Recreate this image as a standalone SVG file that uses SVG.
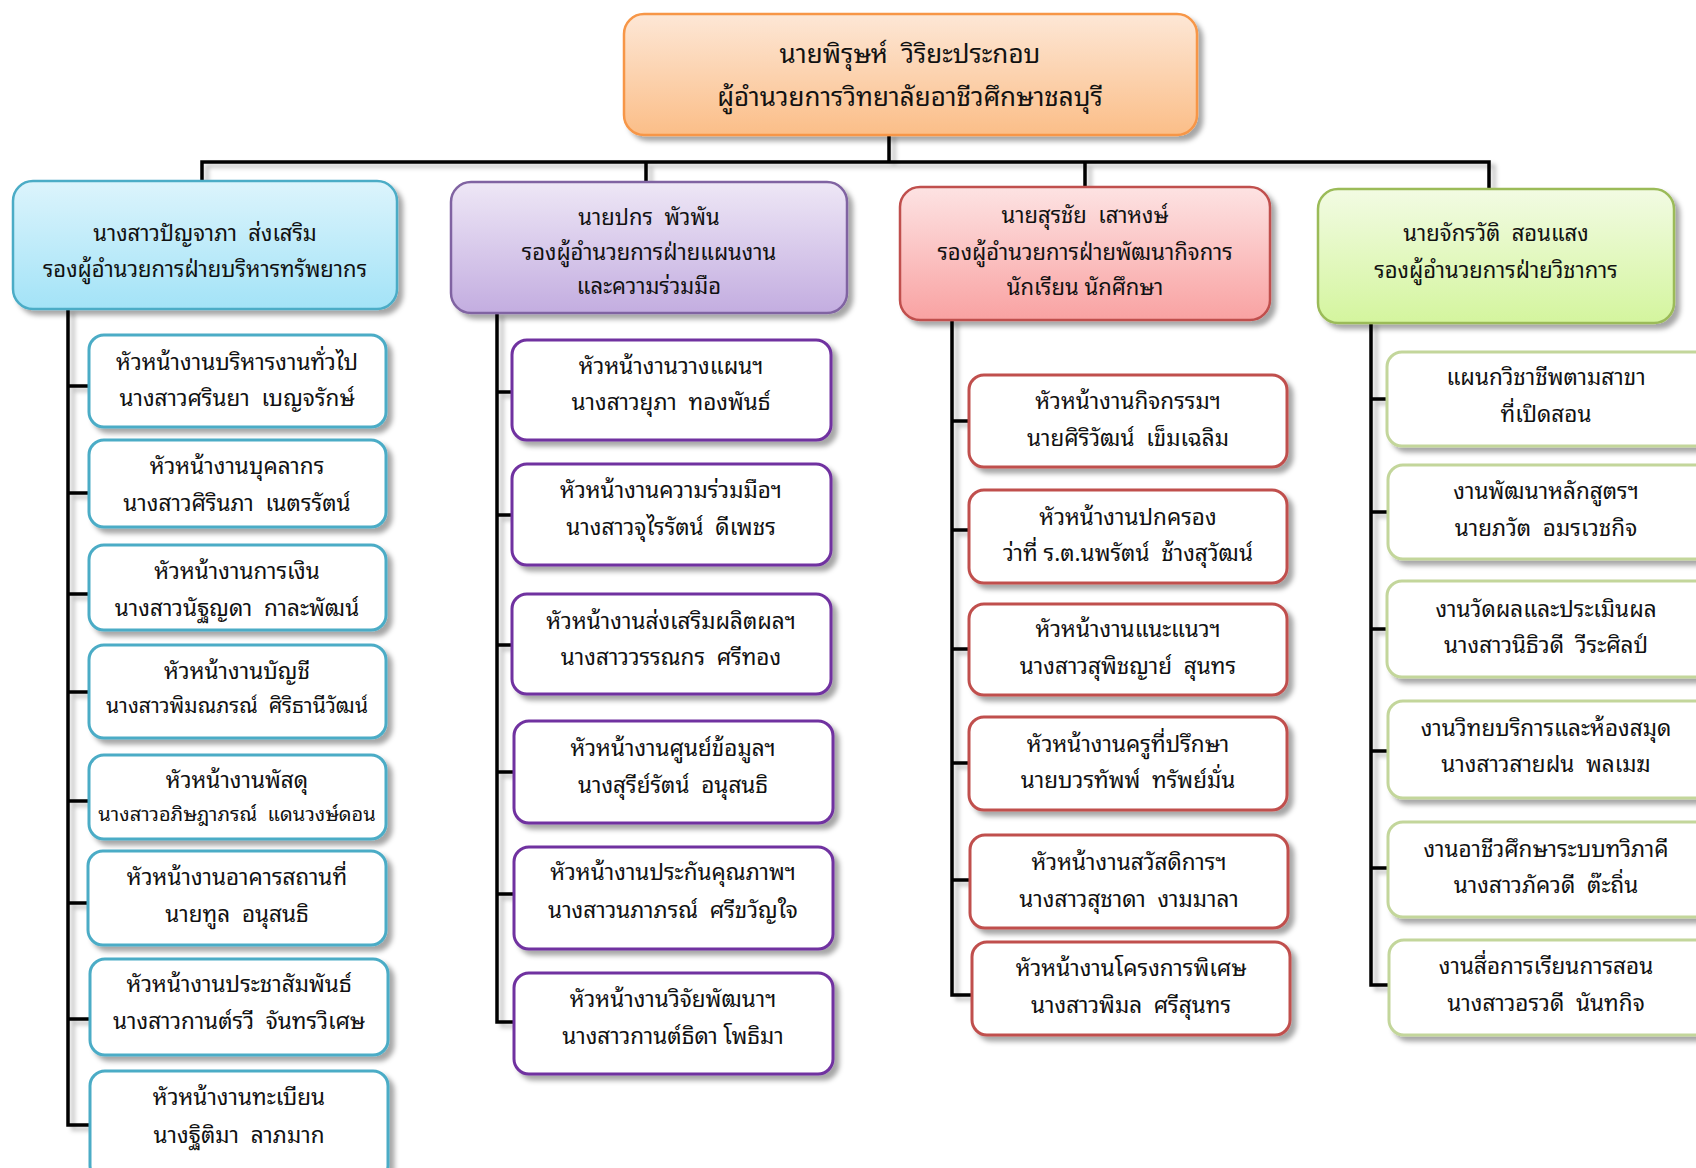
<svg xmlns="http://www.w3.org/2000/svg" width="1696" height="1168" viewBox="0 0 1696 1168">
<defs>
<filter id="sh" x="-10%" y="-10%" width="130%" height="140%">
<feDropShadow dx="5" dy="5" stdDeviation="2.5" flood-color="#000" flood-opacity="0.35"/>
</filter>
<filter id="lsh" x="-50%" y="-5%" width="300%" height="115%">
<feDropShadow dx="5" dy="4" stdDeviation="2" flood-color="#000" flood-opacity="0.25"/>
</filter>
<linearGradient id="gO" x1="0" y1="0" x2="0" y2="1"><stop offset="0" stop-color="#FDE7D6"/><stop offset="1" stop-color="#FBBE88"/></linearGradient>
<linearGradient id="gB" x1="0" y1="0" x2="0" y2="1"><stop offset="0" stop-color="#DCF4FC"/><stop offset="1" stop-color="#A3E3F7"/></linearGradient>
<linearGradient id="gP" x1="0" y1="0" x2="0" y2="1"><stop offset="0" stop-color="#EEE7F6"/><stop offset="1" stop-color="#C3ADE0"/></linearGradient>
<linearGradient id="gR" x1="0" y1="0" x2="0" y2="1"><stop offset="0" stop-color="#FDE3E3"/><stop offset="1" stop-color="#F9A2A2"/></linearGradient>
<linearGradient id="gG" x1="0" y1="0" x2="0" y2="1"><stop offset="0" stop-color="#F2FBE3"/><stop offset="1" stop-color="#D4F59E"/></linearGradient>
</defs>
<style>
text{font-family:"Noto Sans Thai Looped","Noto Serif Thai","Loma","Garuda","Kinnari","Norasi","Noto Sans Thai","DejaVu Sans","Noto Sans",sans-serif;fill:#111;text-anchor:middle;white-space:pre}
.t1{font-size:26px}
.t2{font-size:22px}
.t3{font-size:22.5px}
.box{filter:url(#sh)}
.cB{fill:#fff;stroke:#4BACC6;stroke-width:3}
.cP{fill:#fff;stroke:#7030A0;stroke-width:3}
.cR{fill:#fff;stroke:#C0504D;stroke-width:3}
.cG{fill:#fff;stroke:#C3D69B;stroke-width:3}
.conn{stroke:#000;stroke-width:3.5;fill:none;stroke-linecap:square}
</style>

<g id="connectors" filter="url(#lsh)">
<path class="conn" d="M889 135V162M202 162H1489M202 162V181M646 162V182M1085 162V187M1489 162V189"/>
<path class="conn" d="M68 310V1125M68 386H89M68 493H89M68 594H89M68 692H89M68 801H89M68 903H89M68 1019H89M68 1125H89"/>
<path class="conn" d="M497 314V1022M497 392H512M497 515H512M497 645H512M497 772H512M497 894H512M497 1022H512"/>
<path class="conn" d="M952 321V995M952 421H969M952 530H969M952 649H969M952 763H969M952 880H969M952 995H972"/>
<path class="conn" d="M1371 323V985M1371 399H1387M1371 512H1387M1371 629H1387M1371 751H1387M1371 868H1387M1371 985H1387"/>
</g>

<g id="director">
<rect class="box" x="624" y="14" width="573" height="121" rx="20" fill="url(#gO)" stroke="#F79646" stroke-width="2.5"/>
<text class="t1" x="910" y="63">นายพิรุษห์  วิริยะประกอบ</text>
<text class="t1" x="910" y="106">ผู้อำนวยการวิทยาลัยอาชีวศึกษาชลบุรี</text>
</g>

<g id="deputy-resources">
<rect class="box" x="13" y="181" width="384" height="128" rx="20" fill="url(#gB)" stroke="#4BACC6" stroke-width="2.5"/>
<text class="t2" x="205" y="241">นางสาวปัญจาภา  ส่งเสริม</text>
<text class="t2" x="205" y="277">รองผู้อำนวยการฝ่ายบริหารทรัพยากร</text>
</g>
<g id="deputy-planning">
<rect class="box" x="451" y="182" width="396" height="131" rx="20" fill="url(#gP)" stroke="#8064A2" stroke-width="2.5"/>
<text class="t2" x="649" y="225">นายปกร  พัวพัน</text>
<text class="t2" x="649" y="260">รองผู้อำนวยการฝ่ายแผนงาน</text>
<text class="t2" x="649" y="294">และความร่วมมือ</text>
</g>
<g id="deputy-student">
<rect class="box" x="900" y="187" width="370" height="133" rx="20" fill="url(#gR)" stroke="#C0504D" stroke-width="2.5"/>
<text class="t2" x="1085" y="223">นายสุรชัย  เสาหงษ์</text>
<text class="t2" x="1085" y="260">รองผู้อำนวยการฝ่ายพัฒนากิจการ</text>
<text class="t2" x="1085" y="295">นักเรียน นักศึกษา</text>
</g>
<g id="deputy-academic">
<rect class="box" x="1318" y="189" width="356" height="134" rx="20" fill="url(#gG)" stroke="#9BBB59" stroke-width="2.5"/>
<text class="t2" x="1496" y="241">นายจักรวัติ  สอนแสง</text>
<text class="t2" x="1496" y="278">รองผู้อำนวยการฝ่ายวิชาการ</text>
</g>

<g id="b1"><rect class="box cB" x="89" y="335" width="297" height="92" rx="15"/><text class="t3" x="237" y="370">หัวหน้างานบริหารงานทั่วไป</text><text class="t3" x="237" y="406">นางสาวศรินยา  เบญจรักษ์</text></g>
<g id="b2"><rect class="box cB" x="89" y="440" width="297" height="87" rx="15"/><text class="t3" x="237" y="474">หัวหน้างานบุคลากร</text><text class="t3" x="237" y="511">นางสาวศิรินภา  เนตรรัตน์</text></g>
<g id="b3"><rect class="box cB" x="89" y="545" width="297" height="85" rx="15"/><text class="t3" x="237" y="579">หัวหน้างานการเงิน</text><text class="t3" x="237" y="616">นางสาวนัฐญดา  กาละพัฒน์</text></g>
<g id="b4"><rect class="box cB" x="89" y="645" width="297" height="93" rx="15"/><text class="t3" x="237" y="679">หัวหน้างานบัญชี</text><text class="t3" x="237" y="713" style="font-size:21px">นางสาวพิมณภรณ์  ศิริธานีวัฒน์</text></g>
<g id="b5"><rect class="box cB" x="89" y="755" width="297" height="84" rx="15"/><text class="t3" x="237" y="788">หัวหน้างานพัสดุ</text><text class="t3" x="237" y="821" style="font-size:20px">นางสาวอภิษฎาภรณ์  แดนวงษ์ดอน</text></g>
<g id="b6"><rect class="box cB" x="88" y="851" width="298" height="94" rx="15"/><text class="t3" x="237" y="885">หัวหน้างานอาคารสถานที่</text><text class="t3" x="237" y="922">นายทูล  อนุสนธิ</text></g>
<g id="b7"><rect class="box cB" x="90" y="959" width="298" height="96" rx="15"/><text class="t3" x="239" y="992">หัวหน้างานประชาสัมพันธ์</text><text class="t3" x="239" y="1029">นางสาวกานต์รวี  จันทรวิเศษ</text></g>
<g id="b8"><rect class="box cB" x="90" y="1071" width="298" height="110" rx="15"/><text class="t3" x="239" y="1105">หัวหน้างานทะเบียน</text><text class="t3" x="239" y="1143">นางฐิติมา  ลาภมาก</text></g>

<g id="p1"><rect class="box cP" x="512" y="340" width="319" height="100" rx="15"/><text class="t3" x="671" y="374">หัวหน้างานวางแผนฯ</text><text class="t3" x="671" y="410">นางสาวยุภา  ทองพันธ์</text></g>
<g id="p2"><rect class="box cP" x="512" y="464" width="319" height="101" rx="15"/><text class="t3" x="671" y="498">หัวหน้างานความร่วมมือฯ</text><text class="t3" x="671" y="535">นางสาวจุไรรัตน์  ดีเพชร</text></g>
<g id="p3"><rect class="box cP" x="512" y="594" width="319" height="100" rx="15"/><text class="t3" x="671" y="629">หัวหน้างานส่งเสริมผลิตผลฯ</text><text class="t3" x="671" y="665">นางสาววรรณกร  ศรีทอง</text></g>
<g id="p4"><rect class="box cP" x="514" y="721" width="319" height="102" rx="15"/><text class="t3" x="673" y="756">หัวหน้างานศูนย์ข้อมูลฯ</text><text class="t3" x="673" y="793">นางสุรีย์รัตน์  อนุสนธิ</text></g>
<g id="p5"><rect class="box cP" x="514" y="847" width="319" height="102" rx="15"/><text class="t3" x="673" y="880">หัวหน้างานประกันคุณภาพฯ</text><text class="t3" x="673" y="918">นางสาวนภาภรณ์  ศรีขวัญใจ</text></g>
<g id="p6"><rect class="box cP" x="514" y="973" width="319" height="101" rx="15"/><text class="t3" x="673" y="1007">หัวหน้างานวิจัยพัฒนาฯ</text><text class="t3" x="673" y="1044">นางสาวกานต์ธิดา โพธิมา</text></g>

<g id="r1"><rect class="box cR" x="969" y="375" width="318" height="92" rx="15"/><text class="t3" x="1128" y="409">หัวหน้างานกิจกรรมฯ</text><text class="t3" x="1128" y="446">นายศิริวัฒน์  เข็มเฉลิม</text></g>
<g id="r2"><rect class="box cR" x="969" y="490" width="318" height="93" rx="15"/><text class="t3" x="1128" y="525">หัวหน้างานปกครอง</text><text class="t3" x="1128" y="561">ว่าที่ ร.ต.นพรัตน์  ช้างสุวัฒน์</text></g>
<g id="r3"><rect class="box cR" x="969" y="604" width="318" height="91" rx="15"/><text class="t3" x="1128" y="637">หัวหน้างานแนะแนวฯ</text><text class="t3" x="1128" y="674">นางสาวสุพิชญาย์  สุนทร</text></g>
<g id="r4"><rect class="box cR" x="969" y="717" width="318" height="93" rx="15"/><text class="t3" x="1128" y="752">หัวหน้างานครูที่ปรึกษา</text><text class="t3" x="1128" y="788">นายบวรทัพพ์  ทรัพย์มั่น</text></g>
<g id="r5"><rect class="box cR" x="970" y="835" width="318" height="93" rx="15"/><text class="t3" x="1129" y="870">หัวหน้างานสวัสดิการฯ</text><text class="t3" x="1129" y="907">นางสาวสุชาดา  งามมาลา</text></g>
<g id="r6"><rect class="box cR" x="972" y="942" width="318" height="93" rx="15"/><text class="t3" x="1131" y="976">หัวหน้างานโครงการพิเศษ</text><text class="t3" x="1131" y="1013">นางสาวพิมล  ศรีสุนทร</text></g>

<g id="g1"><rect class="box cG" x="1387" y="352" width="330" height="94" rx="15"/><text class="t3" x="1546" y="385">แผนกวิชาชีพตามสาขา</text><text class="t3" x="1546" y="422">ที่เปิดสอน</text></g>
<g id="g2"><rect class="box cG" x="1388" y="465" width="330" height="94" rx="15"/><text class="t3" x="1546" y="499">งานพัฒนาหลักสูตรฯ</text><text class="t3" x="1546" y="536">นายภวัต  อมรเวชกิจ</text></g>
<g id="g3"><rect class="box cG" x="1387" y="581" width="330" height="96" rx="15"/><text class="t3" x="1546" y="617">งานวัดผลและประเมินผล</text><text class="t3" x="1546" y="653">นางสาวนิธิวดี  วีระศิลป์</text></g>
<g id="g4"><rect class="box cG" x="1388" y="701" width="330" height="97" rx="15"/><text class="t3" x="1546" y="736">งานวิทยบริการและห้องสมุด</text><text class="t3" x="1546" y="772">นางสาวสายฝน  พลเมฆ</text></g>
<g id="g5"><rect class="box cG" x="1388" y="822" width="330" height="95" rx="15"/><text class="t3" x="1546" y="857">งานอาชีวศึกษาระบบทวิภาคี</text><text class="t3" x="1546" y="893">นางสาวภัควดี  ต๊ะถิ่น</text></g>
<g id="g6"><rect class="box cG" x="1389" y="940" width="330" height="95" rx="15"/><text class="t3" x="1546" y="974">งานสื่อการเรียนการสอน</text><text class="t3" x="1546" y="1011">นางสาวอรวดี  นันทกิจ</text></g>
</svg>
